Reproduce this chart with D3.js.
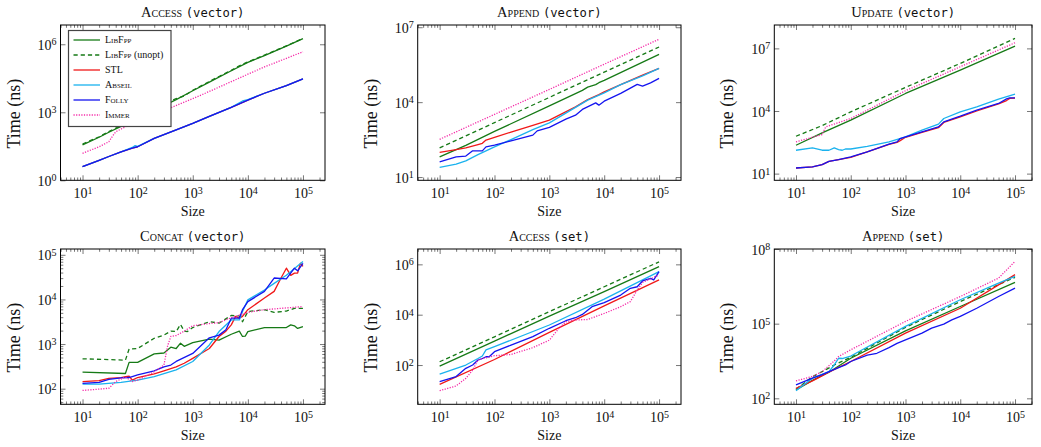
<!DOCTYPE html>
<html>
<head>
<meta charset="utf-8">
<script src="https://cdn.jsdelivr.net/npm/d3@7"></script>
<style>
  body { margin: 0; background: #fff; }
  svg { display: block; }
  .tick line { stroke: #555; stroke-width: 0.8; }
  .domain { display: none; }
  text { font-family: "Liberation Serif", serif; fill: #111; }
</style>
</head>
<body>
<svg width="1041" height="447"></svg>
<script>
// ---- data: [size, log10(time in ns)] ----
const seriesNames = ["LibFpp", "LibFpp (unopt)", "STL", "Abseil", "Folly", "Immer"];

// Access (vector)
const accVecLibfpp = [[10,1.56],[20,1.9],[30,2.12],[50,2.38],[100,2.72],[200,3.08],[500,3.56],[1000,3.95],[2000,4.33],[5000,4.83],[10000,5.2],[20000,5.5],[50000,5.92],[100000,6.25]];
const accVecUnopt  = [[10,1.6],[20,1.92],[30,2.15],[50,2.42],[100,2.78],[200,3.12],[400,3.5],[500,3.6],[700,3.72],[1000,3.97],[2000,4.36],[3000,4.58],[5000,4.85],[7000,5.05],[10000,5.22],[20000,5.52],[50000,5.93],[100000,6.26]];
const accVecStl    = [[10,0.6],[20,0.88],[30,1.05],[50,1.25],[80,1.42],[100,1.48],[200,1.85],[500,2.22],[1000,2.51],[2000,2.82],[5000,3.22],[10000,3.54],[20000,3.84],[50000,4.18],[100000,4.47]];
const accVecAbseil = [[10,0.6],[20,0.88],[30,1.05],[50,1.25],[80,1.45],[90,1.53],[100,1.5],[200,1.85],[500,2.22],[1000,2.51],[2000,2.82],[5000,3.22],[8000,3.5],[10000,3.56],[20000,3.84],[50000,4.18],[100000,4.47]];
const accVecFolly  = [[10,0.6],[20,0.88],[30,1.05],[50,1.25],[80,1.42],[100,1.48],[200,1.85],[500,2.22],[1000,2.51],[2000,2.82],[5000,3.22],[10000,3.54],[20000,3.84],[50000,4.18],[100000,4.47]];
const accVecImmer  = [[10,1.19],[20,1.48],[30,1.7],[35,1.95],[40,2.14],[60,2.36],[100,2.6],[200,2.95],[400,3.2],[1000,3.6],[2000,3.92],[5000,4.35],[10000,4.68],[20000,5.0],[50000,5.38],[100000,5.67]];

// Append (vector)
const appVecLibfpp = [[10,1.81],[30,2.27],[100,2.83],[1000,3.85],[4000,4.47],[5000,4.6],[7000,4.7],[8000,4.78],[10000,4.87],[100000,5.91]];
const appVecUnopt  = [[10,2.17],[100,3.18],[1000,4.19],[10000,5.2],[100000,6.21]];
const appVecStl    = [[10,1.99],[20,2.1],[30,2.17],[50,2.3],[60,2.35],[70,2.48],[100,2.59],[200,2.8],[500,3.07],[1000,3.28],[3000,3.81],[5000,4.1],[8000,4.3],[10000,4.41],[20000,4.7],[50000,5.08],[100000,5.35]];
const appVecAbseil = [[10,1.39],[20,1.52],[30,1.65],[50,1.9],[100,2.21],[200,2.5],[500,2.9],[1000,3.17],[3000,3.79],[5000,4.08],[10000,4.37],[20000,4.7],[50000,5.05],[100000,5.35]];
const appVecFolly  = [[10,1.61],[20,1.81],[30,1.84],[40,2.05],[60,2.05],[70,2.21],[100,2.28],[200,2.45],[500,2.68],[600,2.85],[1000,2.99],[2000,3.32],[3000,3.48],[4000,3.71],[7000,3.97],[8000,3.88],[10000,4.04],[20000,4.35],[40000,4.71],[50000,4.64],[70000,4.77],[100000,4.95]];
const appVecImmer  = [[10,2.51],[100,3.51],[1000,4.51],[10000,5.52],[100000,6.52]];

// Update (vector)
const updVecLibfpp = [[10,2.36],[30,2.95],[100,3.56],[1000,4.84],[10000,5.96],[100000,7.11]];
const updVecUnopt  = [[10,2.79],[30,3.3],[100,3.96],[1000,5.13],[10000,6.28],[100000,7.48]];
const updVecStl    = [[10,1.27],[20,1.32],[30,1.43],[40,1.59],[60,1.67],[100,1.78],[200,2.04],[500,2.4],[700,2.5],[800,2.58],[1000,2.74],[2000,2.97],[4000,3.2],[5000,3.45],[10000,3.72],[20000,4.0],[50000,4.34],[70000,4.5],[80000,4.6],[100000,4.62]];
const updVecAbseil = [[10,2.12],[20,2.23],[30,2.12],[40,2.12],[50,2.23],[60,2.15],[70,2.12],[80,2.18],[100,2.18],[200,2.31],[500,2.52],[1000,2.76],[2000,3.08],[4000,3.37],[5000,3.64],[10000,3.96],[20000,4.2],[50000,4.57],[100000,4.81]];
const updVecFolly  = [[10,1.27],[20,1.32],[30,1.43],[40,1.59],[60,1.67],[100,1.8],[200,2.04],[500,2.41],[700,2.52],[800,2.68],[1000,2.76],[2000,3.0],[4000,3.24],[5000,3.48],[10000,3.75],[20000,4.04],[50000,4.36],[70000,4.58],[80000,4.63],[100000,4.63]];
const updVecImmer  = [[10,2.52],[30,2.87],[35,3.24],[100,3.64],[1000,4.97],[10000,6.12],[100000,7.27]];

// Concat (vector)
const catVecLibfpp = [[10,2.37],[60,2.34],[70,2.59],[100,2.59],[200,2.78],[300,2.8],[400,2.93],[500,2.9],[600,3.02],[700,2.95],[1000,3.03],[2000,3.11],[3000,3.09],[5000,3.22],[7000,3.29],[8000,3.17],[9000,3.18],[10000,3.28],[20000,3.37],[50000,3.37],[60000,3.43],[70000,3.41],[80000,3.35],[100000,3.39]];
const catVecUnopt  = [[10,2.67],[60,2.64],[70,2.89],[100,2.9],[200,3.13],[300,3.2],[400,3.29],[500,3.28],[600,3.44],[700,3.29],[800,3.28],[1000,3.37],[2000,3.5],[3000,3.47],[5000,3.64],[7000,3.63],[8000,3.5],[10000,3.73],[20000,3.77],[30000,3.71],[50000,3.74],[70000,3.8],[100000,3.8]];
const catVecStl    = [[10,2.16],[20,2.18],[30,2.23],[50,2.25],[60,2.27],[70,2.28],[80,2.19],[100,2.25],[200,2.33],[300,2.4],[500,2.49],[700,2.57],[1000,2.68],[2000,2.9],[3000,3.17],[4000,3.29],[5000,3.43],[6000,3.62],[7000,3.58],[8000,3.62],[10000,3.77],[20000,4.03],[30000,4.18],[40000,4.48],[50000,4.7],[60000,4.54],[70000,4.59],[80000,4.59],[90000,4.81],[100000,4.74]];
const catVecAbseil = [[10,2.1],[20,2.1],[50,2.14],[100,2.19],[200,2.27],[500,2.42],[1000,2.61],[2000,2.98],[3000,3.28],[5000,3.54],[7000,3.54],[8000,3.73],[10000,3.99],[20000,4.21],[30000,4.36],[50000,4.54],[100000,4.85]];
const catVecFolly  = [[10,2.12],[20,2.14],[30,2.21],[50,2.24],[70,2.25],[100,2.31],[200,2.4],[300,2.49],[400,2.53],[500,2.61],[1000,2.79],[2000,3.14],[3000,3.2],[4000,3.32],[5000,3.58],[7000,3.58],[8000,3.77],[10000,3.95],[20000,4.18],[30000,4.48],[50000,4.46],[70000,4.7],[80000,4.64],[100000,4.81]];
const catVecImmer  = [[10,1.96],[20,1.99],[30,2.01],[40,2.16],[60,2.26],[80,2.16],[100,2.19],[200,2.38],[300,2.53],[350,2.96],[400,3.17],[500,3.19],[700,3.29],[1000,3.41],[2000,3.46],[3000,3.48],[5000,3.59],[10000,3.71],[20000,3.77],[100000,3.84]];

// Access (set)
const accSetLibfpp = [[10,1.96],[100,2.95],[1000,3.94],[10000,4.92],[100000,5.91]];
const accSetUnopt  = [[10,2.13],[100,3.12],[1000,4.12],[10000,5.11],[100000,6.1]];
const accSetStl    = [[10,1.23],[100,2.22],[1000,3.3],[10000,4.35],[100000,5.38]];
const accSetAbseil = [[10,1.64],[30,2.0],[50,2.26],[60,2.36],[70,2.6],[100,2.73],[1000,3.59],[10000,4.62],[100000,5.71]];
const accSetFolly  = [[10,1.34],[20,1.54],[30,1.87],[40,2.0],[50,2.2],[60,2.26],[70,2.33],[80,2.33],[100,2.53],[200,2.79],[500,3.13],[1000,3.46],[2000,3.76],[3000,3.88],[4000,4.01],[6000,4.32],[10000,4.48],[20000,4.78],[30000,5.05],[40000,5.11],[50000,5.34],[70000,5.44],[80000,5.38],[100000,5.71]];
const accSetImmer  = [[10,0.98],[20,1.17],[30,1.47],[40,1.8],[50,2.2],[60,2.25],[100,2.37],[200,2.42],[500,2.69],[1000,2.99],[1500,3.46],[2000,3.72],[3000,3.79],[5000,3.81],[10000,4.05],[20000,4.32],[30000,4.52],[40000,4.98],[50000,5.28],[100000,5.58]];

// Append (set)
const appSetLibfpp = [[10,2.34],[20,2.72],[40,3.05],[100,3.61],[1000,4.71],[10000,5.69],[100000,6.66]];
const appSetUnopt  = [[10,2.36],[20,2.87],[30,3.07],[50,3.34],[100,3.65],[1000,4.85],[10000,5.89],[100000,6.86]];
const appSetStl    = [[10,2.4],[20,2.7],[40,3.05],[100,3.48],[1000,4.62],[10000,5.62],[50000,6.56],[100000,6.97]];
const appSetAbseil = [[10,2.31],[20,2.81],[40,3.07],[50,3.34],[60,3.61],[70,3.6],[100,3.7],[1000,4.89],[10000,5.96],[50000,6.63],[100000,6.9]];
const appSetFolly  = [[10,2.54],[20,2.81],[30,2.95],[40,3.07],[60,3.23],[80,3.34],[100,3.48],[200,3.74],[300,3.81],[500,4.04],[700,4.21],[1000,4.35],[2000,4.62],[3000,4.82],[5000,4.98],[7000,5.15],[10000,5.29],[20000,5.62],[50000,6.09],[100000,6.43]];
const appSetImmer  = [[10,2.7],[20,2.88],[30,3.07],[50,3.5],[60,3.68],[100,3.95],[1000,5.09],[10000,6.09],[50000,6.83],[100000,7.5]];

// ---- styles ----
const colors = ["#167a16", "#167a16", "#f01818", "#1ab2ee", "#1414f0", "#f52aa8"];
const dashes = [null, "4.2,3", null, null, null, "1.2,1.4"];

const panels = [
  { name: "Access", kind: "vector", box: [60.5, 25, 325, 180.3], xd: [0.6, 5.4], yd: [0, 6.85], yt: [0, 3, 6], minor: false,
    data: [accVecLibfpp, accVecUnopt, accVecStl, accVecAbseil, accVecFolly, accVecImmer], legend: true },
  { name: "Append", kind: "vector", box: [417.7, 25, 681, 180.3], xd: [0.6, 5.4], yd: [0.87, 7.09], yt: [1, 4, 7], minor: false,
    data: [appVecLibfpp, appVecUnopt, appVecStl, appVecAbseil, appVecFolly, appVecImmer] },
  { name: "Update", kind: "vector", box: [774.3, 25, 1032, 180.3], xd: [0.604, 5.31], yd: [0.68, 8.12], yt: [1, 4, 7], minor: false,
    data: [updVecLibfpp, updVecUnopt, updVecStl, updVecAbseil, updVecFolly, updVecImmer] },
  { name: "Concat", kind: "vector", box: [60.5, 249, 325, 404.3], xd: [0.6, 5.4], yd: [1.65, 5.13], yt: [2, 3, 4, 5], minor: true,
    data: [catVecLibfpp, catVecUnopt, catVecStl, catVecAbseil, catVecFolly, catVecImmer] },
  { name: "Access", kind: "set", box: [417.7, 249, 681, 404.3], xd: [0.6, 5.4], yd: [0.44, 6.61], yt: [2, 4, 6], minor: false,
    data: [accSetLibfpp, accSetUnopt, accSetStl, accSetAbseil, accSetFolly, accSetImmer] },
  { name: "Append", kind: "set", box: [774.3, 249, 1032, 404.3], xd: [0.604, 5.31], yd: [1.76, 8.0], yt: [2, 5, 8], minor: false,
    data: [appSetLibfpp, appSetUnopt, appSetStl, appSetAbseil, appSetFolly, appSetImmer] }
];

const svg = d3.select("svg");

function minorTicks(lo, hi) {
  const out = [];
  for (let e = Math.floor(lo); e <= Math.ceil(hi); e++)
    for (let m = 2; m <= 9; m++) {
      const v = m * Math.pow(10, e);
      if (Math.log10(v) > lo && Math.log10(v) < hi) out.push(v);
    }
  return out;
}

function supLabel(sel) {
  sel.each(function(d) {
    const t = d3.select(this).text("");
    t.append("tspan").text("10");
    t.append("tspan").attr("dy", "-0.45em").attr("font-size", "10px").text(Math.round(Math.log10(d)));
  });
}

panels.forEach(function(p) {
  const [x0, y0, x1, y1] = p.box;
  const x = d3.scaleLog().domain([Math.pow(10, p.xd[0]), Math.pow(10, p.xd[1])]).range([x0, x1]);
  const y = d3.scaleLog().domain([Math.pow(10, p.yd[0]), Math.pow(10, p.yd[1])]).range([y1, y0]);
  const g = svg.append("g");

  const xMajor = [1e1, 1e2, 1e3, 1e4, 1e5];
  const xMinor = minorTicks(p.xd[0], p.xd[1]);
  const yMajor = p.yt.map(e => Math.pow(10, e));

  // ticks (inside, on all four sides)
  g.append("g").attr("transform", "translate(0," + y1 + ")")
   .call(d3.axisBottom(x).tickValues(xMinor).tickSize(-2.8).tickFormat(""));
  g.append("g").attr("transform", "translate(0," + y0 + ")")
   .call(d3.axisTop(x).tickValues(xMinor).tickSize(-2.8).tickFormat(""));
  g.append("g").attr("transform", "translate(0," + y0 + ")")
   .call(d3.axisTop(x).tickValues(xMajor).tickSize(-5).tickFormat(""));
  const xb = g.append("g").attr("transform", "translate(0," + y1 + ")")
   .call(d3.axisBottom(x).tickValues(xMajor).tickSize(-5).tickPadding(0));
  xb.selectAll("text").attr("y", 18).attr("dy", null)
    .attr("font-size", "14px").call(supLabel);

  if (p.minor) {
    const yMinor = minorTicks(p.yd[0], p.yd[1]);
    g.append("g").attr("transform", "translate(" + x0 + ",0)")
     .call(d3.axisLeft(y).tickValues(yMinor).tickSize(-2.8).tickFormat(""));
    g.append("g").attr("transform", "translate(" + x1 + ",0)")
     .call(d3.axisRight(y).tickValues(yMinor).tickSize(-2.8).tickFormat(""));
  }
  g.append("g").attr("transform", "translate(" + x1 + ",0)")
   .call(d3.axisRight(y).tickValues(yMajor).tickSize(-5).tickFormat(""));
  const yl = g.append("g").attr("transform", "translate(" + x0 + ",0)")
   .call(d3.axisLeft(y).tickValues(yMajor).tickSize(-5).tickPadding(0));
  yl.selectAll("text").attr("x", -4).attr("dy", "0.36em")
    .attr("font-size", "14px").call(supLabel);

  // series
  const line = d3.line().x(d => x(d[0])).y(d => y(Math.pow(10, d[1])));
  p.data.forEach(function(s, i) {
    g.append("path").datum(s)
     .attr("d", line)
     .attr("fill", "none")
     .attr("stroke", colors[i])
     .attr("stroke-width", 1.3)
     .attr("stroke-linejoin", "round")
     .attr("stroke-dasharray", dashes[i]);
  });

  // frame
  g.append("rect").attr("x", x0).attr("y", y0).attr("width", x1 - x0).attr("height", y1 - y0)
   .attr("fill", "none").attr("stroke", "#000").attr("stroke-width", 1);

  // title
  const title = g.append("text").attr("x", (x0 + x1) / 2).attr("y", y0 - 8)
    .attr("text-anchor", "middle").attr("font-size", "14.5px");
  title.append("tspan").style("font-variant", "small-caps").text(p.name);
  title.append("tspan").text(" ");
  title.append("tspan").attr("font-family", "DejaVu Sans Mono").attr("font-size", "12.2px").text("(" + p.kind + ")");

  // axis labels
  g.append("text").attr("x", (x0 + x1) / 2).attr("y", y1 + 35.5)
   .attr("text-anchor", "middle").attr("font-size", "14px").text("Size");
  g.append("text")
   .attr("transform", "translate(" + (x0 - 41) + "," + ((y0 + y1) / 2 + 11) + ") rotate(-90)")
   .attr("text-anchor", "middle").attr("font-size", "18px").text("Time (ns)");

  if (p.legend) {
    const lg = g.append("g");
    lg.append("rect").attr("x", 68.5).attr("y", 30.5).attr("width", 102.5).attr("height", 96)
      .attr("fill", "#fff").attr("stroke", "#444").attr("stroke-width", 1.2);
    seriesNames.forEach(function(n, i) {
      const ly = 40 + i * 15;
      lg.append("line").attr("x1", 73.5).attr("x2", 100).attr("y1", ly).attr("y2", ly)
        .attr("stroke", colors[i]).attr("stroke-width", 1.3).attr("stroke-dasharray", dashes[i]);
      const t = lg.append("text").attr("x", 105).attr("y", ly + 3.3).attr("font-size", "10px");
      if (n.indexOf(" (") > 0) {
        t.append("tspan").style("font-variant", "small-caps").text(n.split(" ")[0]);
        t.append("tspan").text(" " + n.split(" ")[1]);
      } else {
        t.style("font-variant", "small-caps").text(n);
      }
    });
  }
});
</script>
</body>
</html>
